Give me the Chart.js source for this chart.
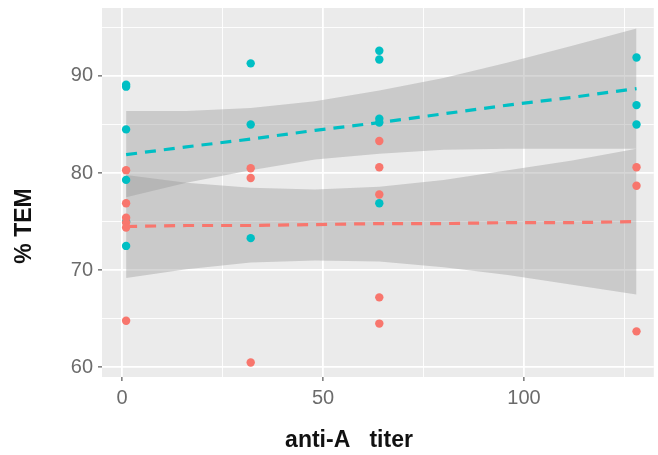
<!DOCTYPE html>
<html>
<head>
<meta charset="utf-8">
<title>% TEM vs anti-A titer</title>
<script src="https://cdn.jsdelivr.net/npm/chart.js@4.4.1/dist/chart.umd.min.js"></script>
<style>
  html, body { margin: 0; padding: 0; background: #ffffff; }
  #wrap { width: 658px; height: 455px; }
</style>
</head>
<body>
<div id="wrap"><canvas id="temChart" width="658" height="455"></canvas></div>
<script>
// observed points, red group
const redTiter = [1, 1, 1, 1, 1, 1, 32, 32, 32, 64, 64, 64, 64, 64, 128, 128, 128];
const redTem = [80.3, 76.9, 75.4, 74.9, 74.4, 64.8, 80.5, 79.5, 60.5, 83.3, 80.6, 77.8, 67.2, 64.5, 80.6, 78.7, 63.7];

// observed points, cyan group
const cyanTiter = [1, 1, 1, 1, 1, 1, 32, 32, 32, 64, 64, 64, 64, 64, 128, 128, 128];
const cyanTem = [89.1, 88.9, 84.5, 79.3, 75.0, 72.5, 91.3, 85.0, 73.3, 92.6, 91.7, 85.6, 85.2, 76.9, 91.9, 87.0, 85.0];

// fitted lines and confidence bands
const fitTiter = [1, 16, 32, 48, 64, 80, 96, 112, 128];
const cyanFit = [81.9, 82.7, 83.5, 84.4, 85.2, 86.1, 87.0, 87.8, 88.7];
const cyanUpper = [86.4, 86.4, 86.7, 87.4, 88.5, 89.8, 91.4, 93.1, 94.9];
const cyanLower = [77.5, 79.0, 80.3, 81.4, 82.0, 82.4, 82.5, 82.5, 82.5];
const redFit = [74.5, 74.6, 74.6, 74.7, 74.8, 74.8, 74.9, 74.9, 75.0];
const redUpper = [79.8, 79.0, 78.5, 78.3, 78.6, 79.3, 80.3, 81.3, 82.5];
const redLower = [69.2, 70.1, 70.8, 71.0, 70.9, 70.3, 69.5, 68.5, 67.5];

// axis ticks and titles
const xMajorTicks = [0, 50, 100];
const yMajorTicks = [60, 70, 80, 90];
const xTitle = 'anti-A   titer';
const yTitle = '% TEM';

const RED = '#F8766D';
const CYAN = '#00BFC4';
const BAND = 'rgba(153,153,153,0.4)';
const FONT = 'Liberation Sans, Arial, sans-serif';

const pairs = (xs, ys) => xs.map((x, i) => ({ x: x, y: ys[i] }));

const panelBackground = {
  id: 'panelBackground',
  beforeDraw(chart) {
    const { ctx, chartArea } = chart;
    ctx.save();
    ctx.fillStyle = '#EBEBEB';
    ctx.fillRect(chartArea.left, chartArea.top, chartArea.right - chartArea.left, chartArea.bottom - chartArea.top);
    ctx.restore();
  }
};

// axis titles sit a little off centre in the original, so draw them here
const axisTitles = {
  id: 'axisTitles',
  afterDraw(chart) {
    const ctx = chart.ctx;
    ctx.save();
    ctx.fillStyle = '#111111';
    ctx.font = 'bold 23px ' + FONT;
    ctx.textAlign = 'center';
    ctx.textBaseline = 'middle';
    ctx.fillText(xTitle, 349, 441);
    ctx.translate(25, 226);
    ctx.rotate(-Math.PI / 2);
    ctx.fillText(yTitle, 0, 0);
    ctx.restore();
  }
};

function bandSet(values, fill) {
  return {
    type: 'line',
    data: pairs(fitTiter, values),
    borderWidth: 0,
    pointRadius: 0,
    backgroundColor: BAND,
    fill: fill,
    order: 3
  };
}

function fitSet(values, color) {
  return {
    type: 'line',
    data: pairs(fitTiter, values),
    borderColor: color,
    borderWidth: 3.2,
    borderDash: [11, 8],
    pointRadius: 0,
    fill: false,
    order: 2
  };
}

function pointSet(xs, ys, color) {
  return {
    type: 'scatter',
    data: pairs(xs, ys),
    backgroundColor: color,
    borderColor: color,
    borderWidth: 0,
    pointRadius: 4.2,
    order: 1
  };
}

new Chart(document.getElementById('temChart').getContext('2d'), {
  type: 'scatter',
  data: {
    datasets: [
      bandSet(redUpper, '+1'),
      bandSet(redLower, false),
      bandSet(cyanUpper, '+1'),
      bandSet(cyanLower, false),
      fitSet(redFit, RED),
      fitSet(cyanFit, CYAN),
      pointSet(redTiter, redTem, RED),
      pointSet(cyanTiter, cyanTem, CYAN)
    ]
  },
  options: {
    responsive: false,
    animation: false,
    devicePixelRatio: 1,
    layout: { padding: { top: 8, right: 3, left: 0, bottom: 0 } },
    plugins: {
      legend: { display: false },
      tooltip: { enabled: false }
    },
    scales: {
      x: {
        type: 'linear',
        min: -5,
        max: 132.3,
        afterFit: (scale) => {
          scale.height = 78;
          scale.paddingLeft = 0;
          scale.paddingRight = 0;
        },
        ticks: {
          stepSize: 25,
          includeBounds: false,
          padding: 5,
          color: '#6b6b6b',
          font: { family: FONT, size: 20 },
          callback: (v) => (xMajorTicks.includes(v) ? String(v) : '')
        },
        grid: {
          color: '#ffffff',
          lineWidth: (ctx) => (xMajorTicks.includes(ctx.tick.value) ? 1.8 : 0.9),
          tickColor: (ctx) => (xMajorTicks.includes(ctx.tick.value) ? '#333333' : 'rgba(0,0,0,0)'),
          tickLength: 4,
          tickWidth: 1
        },
        border: { display: false },
        title: { display: false }
      },
      y: {
        type: 'linear',
        min: 59,
        max: 97,
        afterFit: (scale) => {
          scale.width = 102;
          scale.paddingTop = 0;
          scale.paddingBottom = 0;
        },
        ticks: {
          stepSize: 5,
          includeBounds: false,
          padding: 5,
          color: '#6b6b6b',
          font: { family: FONT, size: 20 },
          callback: (v) => (yMajorTicks.includes(v) ? String(v) : '')
        },
        grid: {
          color: '#ffffff',
          lineWidth: (ctx) => (yMajorTicks.includes(ctx.tick.value) ? 1.8 : 0.9),
          tickColor: (ctx) => (yMajorTicks.includes(ctx.tick.value) ? '#333333' : 'rgba(0,0,0,0)'),
          tickLength: 4,
          tickWidth: 1
        },
        border: { display: false },
        title: { display: false }
      }
    }
  },
  plugins: [panelBackground, axisTitles]
});
</script>
</body>
</html>
